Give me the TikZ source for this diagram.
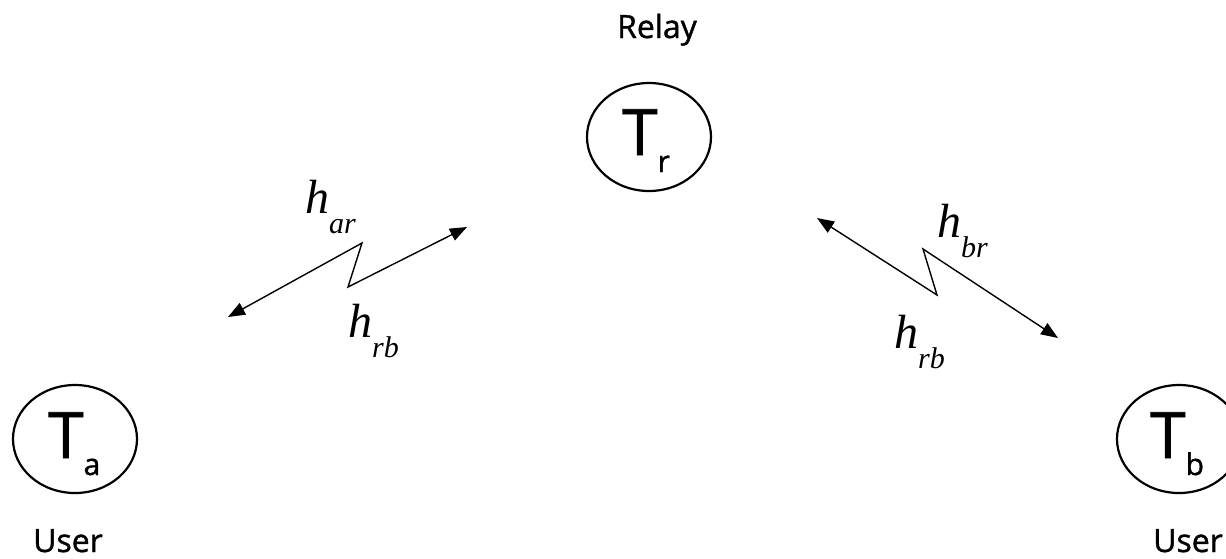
\documentclass[tikz,border=0pt]{standalone}
\usepackage{fontspec}
\setmainfont{Open Sans}
\newfontfamily\comic[FakeBold=1.2]{Open Sans}
\newfontfamily\tnr{Liberation Serif}
\usetikzlibrary{arrows.meta,shapes.geometric}
\tikzset{
  term/.style={draw, ellipse, line width=2.2pt, minimum width=124pt, minimum height=108pt, inner sep=0pt},
  ttext/.style={anchor=base west, inner sep=0pt},
  caption/.style={anchor=base, inner sep=0pt, font=\comic\fontsize{32}{32}\selectfont},
  chlabel/.style={anchor=base west, inner sep=0pt},
  link/.style={line width=1.4pt, {Triangle[length=17pt,width=13pt]}-{Triangle[length=17pt,width=13pt]}}
}
\newcommand{\tsym}[1]{\comic\fontsize{64}{64}\selectfont T\raisebox{-17pt}{\fontsize{30}{30}\selectfont #1}}
\newcommand{\hsym}[1]{\tnr\itshape\fontsize{48}{48}\selectfont h\raisebox{-20pt}{\fontsize{30}{30}\selectfont #1}}
\begin{document}
\begin{tikzpicture}[x=1pt,y=-1pt]
\useasboundingbox (0,0) rectangle (1226,558);
% terminals
\node[term] (Tr) at (649,137) {};
\node[term] (Ta) at (75,439) {};
\node[term] (Tb) at (1179,439) {};
\node[ttext] (tr) at ([shift={(-27,18)}]Tr.center) {\tsym{r}};
\node[ttext] (ta) at ([shift={(-27,19)}]Ta.center) {\tsym{a}};
\node[ttext] (tb) at ([shift={(-29,19)}]Tb.center) {\tsym{b}};
% captions
\node[caption] (relay) at (657,38) {Relay};
\node[caption] (usera) at (68,552) {User};
\node[caption] (userb) at (1188,552) {User};
% left link
\coordinate (la) at (228,317);
\coordinate (lz1) at (362,243);
\coordinate (lz2) at (348,287);
\coordinate (lb) at (467,227);
\draw[link, line join=miter] (la) -- (lz1) -- (lz2) -- (lb);
% right link
\coordinate (ra) at (817,218);
\coordinate (rz1) at (937,295);
\coordinate (rz2) at (923,249);
\coordinate (rb) at (1058,338);
\draw[link, line join=miter] (ra) -- (rz1) -- (rz2) -- (rb);
% channel labels
\node[chlabel] (har) at (305,213) {\hsym{ar}};
\node[chlabel] (hrb1) at (348,337) {\hsym{rb}};
\node[chlabel] (hbr) at (937,237) {\hsym{br}};
\node[chlabel] (hrb2) at (894,348) {\hsym{rb}};
\end{tikzpicture}
\end{document}
